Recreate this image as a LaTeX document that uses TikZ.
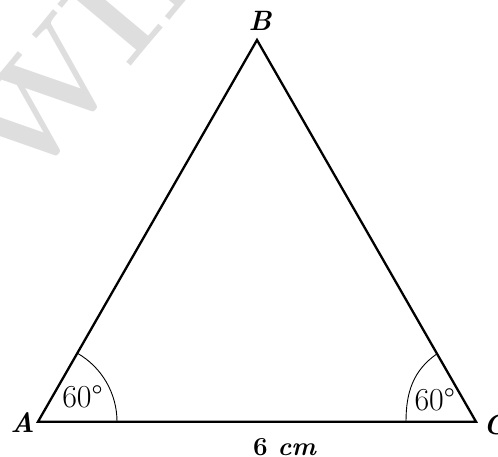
\documentclass[tikz,border=0pt]{standalone}
\begin{document}
\begin{tikzpicture}[x=1pt,y=1pt,
  side/.style={line width=2.3pt, line join=miter},
  anglearc/.style={line width=0.9pt},
  vlabel/.style={font=\fontsize{28}{28}\selectfont\bfseries\itshape, inner sep=0pt},
  anglelabel/.style={font=\fontsize{32}{32}\selectfont, inner sep=0pt},
  sidelabel/.style={font=\fontsize{26}{26}\selectfont\bfseries, inner sep=0pt},
  watermark/.style={font=\fontsize{140}{140}\selectfont\bfseries, text=black!13, inner sep=0pt, rotate=50, anchor=base west}]
\useasboundingbox (0,0) rectangle (498,456);
\begin{scope}
\clip (0,0) rectangle (498,456);
\node[watermark] (wm) at (24,262) {WIK};
\end{scope}
\coordinate (A) at (38,34.3);
\coordinate (B) at (257,416);
\coordinate (C) at (476,34.3);
\draw[side] (A) -- (B) -- (C) -- cycle;
\coordinate (a1) at (117,34.3);
\coordinate (c1) at (406,34.3);
\coordinate (c2) at (436.7,102);
\draw[anglearc] (a1) arc[start angle=0, end angle=60, radius=79];
\draw[anglearc] (c1) to[out=90, in=215] (c2);
\node[vlabel] (lA) at (22.5,33.5) {A};
\node[vlabel] (lB) at (260,435) {B};
\node[vlabel] (lC) at (495,31) {C};
\node[anglelabel] (gA) at (82.5,59) {60\textdegree};
\node[anglelabel] (gC) at (434.7,56) {60\textdegree};
\node[sidelabel] (s) at (285,9) {6 \textit{cm}};
\end{tikzpicture}
\end{document}
